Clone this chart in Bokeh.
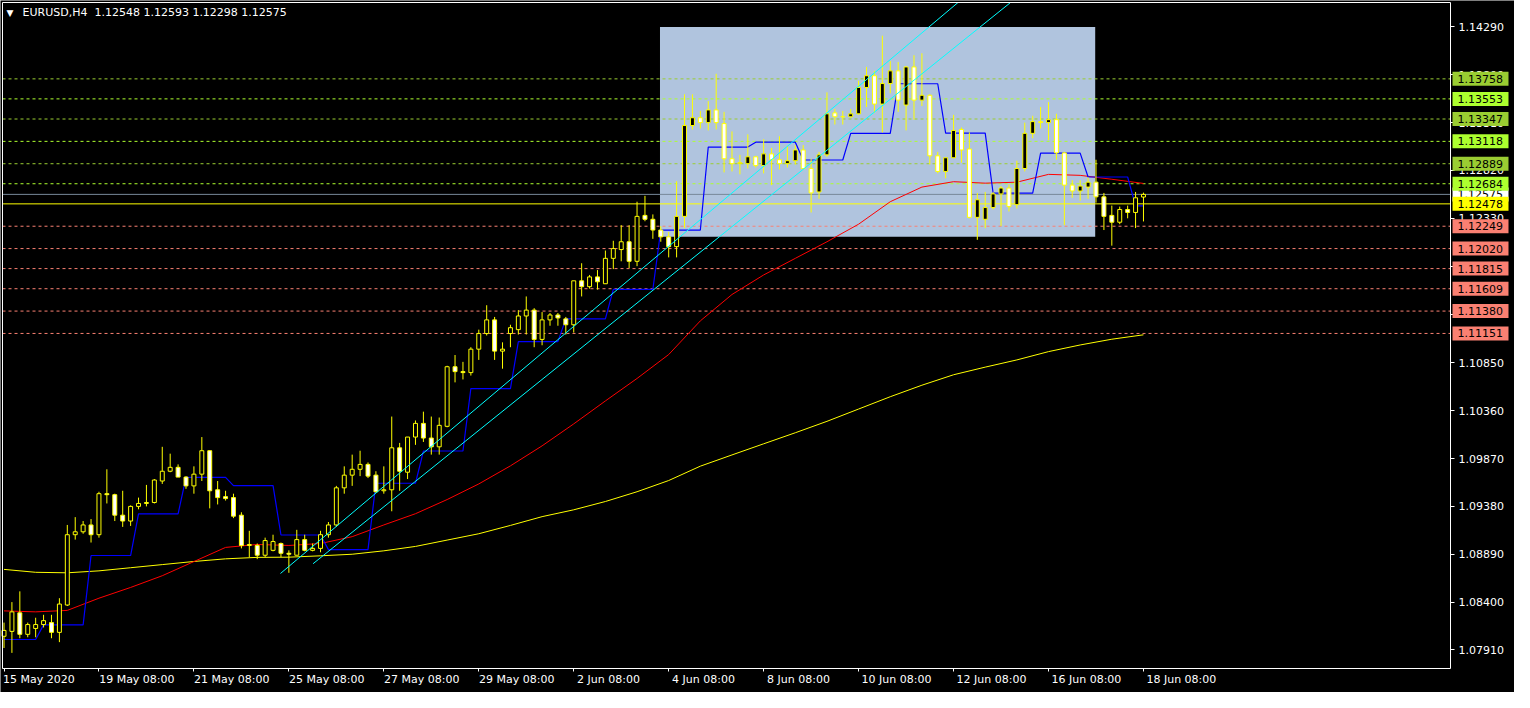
import numpy as np
from bokeh.plotting import figure
from bokeh.models import (Range1d, LinearAxis, FixedTicker, NumeralTickFormatter, Label)
from bokeh.core.properties import value
from bokeh.embed import file_html
from bokeh.resources import INLINE

# ---------------- data ----------------
symbol = "EURUSD,H4"

date_ticks = [0, 12, 24, 36, 48, 60, 72, 84, 96, 108, 120, 132, 144]
date_labels = ["15 May 2020", "19 May 08:00", "21 May 08:00", "25 May 08:00",
               "27 May 08:00", "29 May 08:00", "2 Jun 08:00", "4 Jun 08:00",
               "8 Jun 08:00", "10 Jun 08:00", "12 Jun 08:00", "16 Jun 08:00",
               "18 Jun 08:00"]

price_ticks = [1.0791, 1.0840, 1.0889, 1.0938, 1.0987, 1.1036, 1.1085,
               1.1135, 1.1184, 1.1233, 1.1282, 1.1331, 1.1380, 1.1429]

opens = [
    1.0805, 1.0810, 1.0829, 1.0807, 1.0813, 1.0817, 1.0819, 1.0809, 1.0837, 1.0909,
    1.0912, 1.0919, 1.0909, 1.0951, 1.0950, 1.0929, 1.0923, 1.0938, 1.0941, 1.0942,
    1.0964, 1.0974, 1.0978, 1.0968, 1.0959, 1.0971, 1.0995, 1.0955, 1.0948, 1.0947,
    1.0929, 1.0898, 1.0898, 1.0888, 1.0893, 1.0900, 1.0890, 1.0888, 1.0904, 1.0893,
    1.0895, 1.0909, 1.0919, 1.0957, 1.0970, 1.0976, 1.0981, 1.0970, 1.0954, 1.0955,
    1.0998, 1.0973, 1.1009, 1.1023, 1.1008, 1.0999, 1.1020, 1.1081, 1.1076, 1.1075,
    1.1099, 1.1115, 1.1129, 1.1097, 1.1115, 1.1119, 1.1133, 1.1139, 1.1109, 1.1129,
    1.1134, 1.1130, 1.1124, 1.1169, 1.1163, 1.1173, 1.1166, 1.1192, 1.1201, 1.1209,
    1.1189, 1.1236, 1.1232, 1.1221, 1.1214, 1.1204, 1.1235, 1.1328, 1.1336, 1.1331,
    1.1344, 1.1330, 1.1294, 1.1289, 1.1289, 1.1296, 1.1287, 1.1299, 1.1293, 1.1289,
    1.1292, 1.1303, 1.1284, 1.1260, 1.1298, 1.1341, 1.1337, 1.1337, 1.1340, 1.1367,
    1.1379, 1.1350, 1.1371, 1.1384, 1.1349, 1.1388, 1.1354, 1.1359, 1.1297, 1.1281,
    1.1295, 1.1324, 1.1304, 1.1234, 1.1232, 1.1244, 1.1258, 1.1264, 1.1247, 1.1284,
    1.1320, 1.1332, 1.1331, 1.1334, 1.1300, 1.1267, 1.1261, 1.1265, 1.1270, 1.1255,
    1.1236, 1.1229, 1.1242, 1.1239, 1.12548]

highs = [
    1.0819, 1.0840, 1.0851, 1.0819, 1.0824, 1.0827, 1.0827, 1.0844, 1.0919, 1.0927,
    1.0923, 1.0925, 1.0953, 1.0976, 1.0951, 1.0954, 1.0939, 1.0947, 1.0960, 1.0966,
    1.0999, 1.0992, 1.0981, 1.0969, 1.0979, 1.1009, 1.0995, 1.0964, 1.0954, 1.0951,
    1.0932, 1.0913, 1.0900, 1.0906, 1.0909, 1.0901, 1.0893, 1.0914, 1.0909, 1.0900,
    1.0913, 1.0922, 1.0959, 1.0979, 1.0991, 1.0995, 1.0983, 1.0974, 1.0979, 1.1030,
    1.1003, 1.1009, 1.1026, 1.1035, 1.1030, 1.1029, 1.1082, 1.1093, 1.1086, 1.1101,
    1.1119, 1.1144, 1.1132, 1.1106, 1.1124, 1.1139, 1.1153, 1.1141, 1.1137, 1.1136,
    1.1136, 1.1132, 1.1169, 1.1187, 1.1175, 1.1180, 1.1200, 1.1210, 1.1226, 1.1226,
    1.1250, 1.1256, 1.1237, 1.1225, 1.1219, 1.1271, 1.1360, 1.1360, 1.1343, 1.1353,
    1.1381, 1.1342, 1.1322, 1.1298, 1.1319, 1.1297, 1.1314, 1.1305, 1.1317, 1.1307,
    1.1308, 1.1308, 1.1294, 1.1301, 1.1362, 1.1345, 1.1343, 1.1345, 1.1374, 1.1388,
    1.1384, 1.1420, 1.1394, 1.1393, 1.1389, 1.1400, 1.1402, 1.1360, 1.1301, 1.1295,
    1.1339, 1.1326, 1.1321, 1.1259, 1.1260, 1.1260, 1.1266, 1.1268, 1.1292, 1.1331,
    1.1338, 1.1347, 1.1352, 1.1340, 1.1301, 1.1272, 1.1272, 1.1275, 1.1293, 1.1259,
    1.1246, 1.1245, 1.1246, 1.1260, 1.12593]

lows = [
    1.0793, 1.0788, 1.0803, 1.0804, 1.0804, 1.0814, 1.0803, 1.0799, 1.0836, 1.0904,
    1.0910, 1.0901, 1.0906, 1.0941, 1.0923, 1.0917, 1.0918, 1.0935, 1.0938, 1.0941,
    1.0961, 1.0973, 1.0968, 1.0956, 1.0951, 1.0964, 1.0936, 1.0940, 1.0944, 1.0926,
    1.0895, 1.0886, 1.0884, 1.0886, 1.0892, 1.0886, 1.0870, 1.0888, 1.0892, 1.0892,
    1.0891, 1.0906, 1.0917, 1.0951, 1.0959, 1.0969, 1.0967, 1.0952, 1.0951, 1.0933,
    1.0954, 1.0966, 1.1001, 1.1004, 1.0991, 1.0991, 1.1019, 1.1065, 1.1068, 1.1072,
    1.1088, 1.1113, 1.1088, 1.1079, 1.1101, 1.1114, 1.1114, 1.1101, 1.1103, 1.1123,
    1.1123, 1.1114, 1.1116, 1.1153, 1.1161, 1.1160, 1.1166, 1.1181, 1.1189, 1.1182,
    1.1184, 1.1230, 1.1212, 1.1209, 1.1193, 1.1193, 1.1223, 1.1324, 1.1325, 1.1323,
    1.1324, 1.1280, 1.1281, 1.1278, 1.1284, 1.1285, 1.1279, 1.1267, 1.1283, 1.1285,
    1.1288, 1.1283, 1.1239, 1.1253, 1.1296, 1.1329, 1.1329, 1.1336, 1.1339, 1.1347,
    1.1341, 1.1321, 1.1361, 1.1342, 1.1323, 1.1334, 1.1348, 1.1288, 1.1279, 1.1274,
    1.1295, 1.1290, 1.1233, 1.1211, 1.1223, 1.1242, 1.1225, 1.1240, 1.1243, 1.1281,
    1.1315, 1.1325, 1.1313, 1.1293, 1.1226, 1.1254, 1.1251, 1.1253, 1.1249, 1.1221,
    1.1205, 1.1227, 1.1233, 1.1223, 1.12298]

closes = [
    1.0811, 1.0830, 1.0807, 1.0817, 1.0817, 1.0821, 1.0809, 1.0838, 1.0909, 1.0912,
    1.0919, 1.0909, 1.0951, 1.0950, 1.0929, 1.0923, 1.0938, 1.0941, 1.0942, 1.0965,
    1.0974, 1.0978, 1.0968, 1.0959, 1.0971, 1.0995, 1.0954, 1.0947, 1.0946, 1.0928,
    1.0898, 1.0899, 1.0888, 1.0903, 1.0902, 1.0890, 1.0889, 1.0904, 1.0893, 1.0895,
    1.0909, 1.0919, 1.0957, 1.0970, 1.0976, 1.0981, 1.0969, 1.0953, 1.0955, 1.0998,
    1.0974, 1.1009, 1.1023, 1.1008, 1.0999, 1.1021, 1.1081, 1.1076, 1.1075, 1.1099,
    1.1115, 1.1129, 1.1097, 1.1099, 1.1121, 1.1133, 1.1139, 1.1109, 1.1129, 1.1134,
    1.1131, 1.1124, 1.1169, 1.1163, 1.1173, 1.1168, 1.1192, 1.1202, 1.1209, 1.1189,
    1.1235, 1.1232, 1.1221, 1.1214, 1.1204, 1.1235, 1.1328, 1.1336, 1.1331, 1.1344,
    1.1331, 1.1294, 1.1289, 1.1290, 1.1296, 1.1287, 1.1299, 1.1293, 1.1289, 1.1292,
    1.1303, 1.1284, 1.1259, 1.1298, 1.1340, 1.1337, 1.1337, 1.1340, 1.1367, 1.1379,
    1.1350, 1.1371, 1.1384, 1.1354, 1.1388, 1.1354, 1.1359, 1.1297, 1.1281, 1.1295,
    1.1323, 1.1303, 1.1234, 1.1252, 1.1244, 1.1258, 1.1264, 1.1245, 1.1284, 1.1320,
    1.1332, 1.1331, 1.1334, 1.1300, 1.1267, 1.1261, 1.1266, 1.1270, 1.1255, 1.1235,
    1.1229, 1.1242, 1.1239, 1.1254, 1.12575]

# moving averages read every 4 bars
ma_bars = list(range(0, 145, 4))
ma_red = [1.0831, 1.0830, 1.08315, 1.0844, 1.0855, 1.0867, 1.08815, 1.0896, 1.0899,
          1.0898, 1.0900, 1.0907, 1.0919, 1.09305, 1.0945, 1.0961, 1.09795, 1.1000,
          1.10225, 1.1046, 1.1069, 1.10935, 1.1128, 1.1155, 1.1175, 1.1192, 1.1209,
          1.1227, 1.1250, 1.1265, 1.12705, 1.1269, 1.1270, 1.1278, 1.1277, 1.1273,
          1.12687]
ma_yellow = [1.08735, 1.08705, 1.0870, 1.0872, 1.08752, 1.08784, 1.08816, 1.08843,
             1.08858, 1.0886, 1.08874, 1.0889, 1.08925, 1.0897, 1.09035, 1.0910,
             1.09185, 1.09275, 1.09345, 1.0943, 1.0953, 1.09645, 1.09792, 1.09907,
             1.10021, 1.10134, 1.10251, 1.10377, 1.10503, 1.10621, 1.10728, 1.10806,
             1.1088, 1.10965, 1.11033, 1.11092, 1.11137]

# stepped blue indicator: level and number of bars it holds
blue_levels = [1.08017, 1.08167, 1.08877, 1.09303, 1.09677, 1.09593, 1.09087, 1.08937,
               1.09617, 1.09947, 1.10587, 1.11067, 1.11300, 1.11603, 1.12210, 1.13060,
               1.13110, 1.12927, 1.13200, 1.13708, 1.13203, 1.12587, 1.12997, 1.12753,
               1.12457]
blue_counts = [5] + [6] * 23 + [2]

# trend lines (bar index, price) anchors
trend_bar0 = [34.94, 39.06]
trend_price0 = [1.08693, 1.08793]
trend_bar1 = [120.56, 127.2]
trend_price1 = [1.1454, 1.1454]

# rectangle object
rect_bar0, rect_bar1 = 82.9, 137.9
rect_top, rect_bottom = 1.1429, 1.1214

# horizontal levels
res_levels = [1.13758, 1.13553, 1.13347, 1.13118, 1.12889, 1.12684]
res_colors = ["#9ACD32", "#ADFF2F", "#9ACD32", "#ADFF2F", "#9ACD32", "#ADFF2F"]
sup_levels = [1.12249, 1.12020, 1.11815, 1.11609, 1.11380, 1.11151]
sup_color = "#FA8072"
yellow_level = 1.12478

# ---------------- geometry ----------------
W, H = 1514, 692
XMIN, XMAX = -0.19, 182.8       # chart box in bars
YMIN, YMAX = 1.0772, 1.1454     # chart box in price
CL, CR, CT, CB = 2, 1450, 2, 668   # chart box in canvas pixels (frame = whole canvas)
ppb = (CR - CL) / (XMAX - XMIN)
ppp = (CB - CT) / (YMAX - YMIN)
x_start, x_end = XMIN - CL / ppb, XMAX + (W - CR) / ppb
y_start, y_end = YMIN - (H - CB) / ppp, YMAX + CT / ppp
FONT = "DejaVu Sans"

p = figure(width=W, height=H, x_range=Range1d(x_start, x_end), y_range=Range1d(y_start, y_end),
           output_backend="svg", toolbar_location=None,
           x_axis_location=None, y_axis_location=None,
           background_fill_color="black", border_fill_color="black",
           min_border_left=0, min_border_top=0, min_border_right=0, min_border_bottom=0)
p.outline_line_color = None
p.grid.visible = False

# rectangle (background object)
p.quad(left=[rect_bar0], right=[rect_bar1], top=[rect_top], bottom=[rect_bottom],
       fill_color="#B0C4DE", line_color=None, level="underlay")

# horizontal dashed levels
lv_all = res_levels + sup_levels
col_all = res_colors + [sup_color] * len(sup_levels)
p.segment(x0=[XMIN] * len(lv_all), x1=[XMAX] * len(lv_all), y0=lv_all, y1=lv_all,
          line_color=col_all, line_width=1, line_dash="3 3", level="underlay")
bid = closes[-1]
p.segment(x0=[XMIN, XMIN], x1=[XMAX, XMAX], y0=[bid, yellow_level], y1=[bid, yellow_level],
          line_color=["#778899", "#FFFF00"], line_width=1, level="underlay")

# moving averages
p.line(ma_bars, ma_yellow, line_color="#FFFF00", line_width=1)
p.line(ma_bars, ma_red, line_color="#FF0000", line_width=1)

# blue stepped indicator
idx = np.arange(len(opens))
blue_y = np.repeat(blue_levels, blue_counts)
p.line(idx, blue_y, line_color="#0000FF", line_width=1.2)

# candles
o = np.array(opens); c = np.array(closes)
body_top = np.maximum(o, c)
body_bot = np.minimum(o, c)
fills = ["#000000" if cc >= oo else "#FFFFFF" for oo, cc in zip(opens, closes)]
p.segment(x0=idx, y0=lows, x1=idx, y1=highs, line_color="#FFFF00", line_width=1)
p.vbar(x=idx, top=body_top, bottom=body_bot, width=0.5, fill_color=fills,
       line_color="#FFFF00", line_width=1)

# trend lines
p.segment(x0=trend_bar0, y0=trend_price0, x1=trend_bar1, y1=trend_price1,
          line_color="#00FFFF", line_width=1)

# chart border
p.quad(left=[XMIN], right=[XMAX], top=[YMAX], bottom=[YMIN], fill_color=None,
       line_color="white", line_width=1, level="overlay")

# ---------------- axes (fixed at the chart box edges) ----------------
yaxis = LinearAxis(ticker=FixedTicker(ticks=price_ticks, minor_ticks=[]),
                   formatter=NumeralTickFormatter(format="0.00000"),
                   fixed_location=XMAX)
yaxis.axis_line_color = None
yaxis.major_tick_line_color = "white"
yaxis.major_tick_out = 4
yaxis.major_tick_in = 0
yaxis.minor_tick_line_color = None
yaxis.major_label_text_color = "white"
yaxis.major_label_text_font = FONT
yaxis.major_label_text_font_size = "11px"
yaxis.major_label_standoff = 4
p.add_layout(yaxis, "right")

xa = LinearAxis(ticker=FixedTicker(ticks=date_ticks, minor_ticks=[]), fixed_location=YMIN)
xa.axis_line_color = None
xa.major_tick_line_color = "white"
xa.major_tick_out = 3
xa.major_tick_in = 0
xa.minor_tick_line_color = None
xa.major_label_text_font_size = "0px"
xa.major_label_text_alpha = 0
xa.major_label_standoff = 0
p.add_layout(xa, "below")

shifted = [t + (len(s) * 6.15 / 2 + 1) / ppb for t, s in zip(date_ticks, date_labels)]
xb = LinearAxis(ticker=FixedTicker(ticks=shifted, minor_ticks=[]), fixed_location=YMIN,
                major_label_overrides={t: s for t, s in zip(shifted, date_labels)})
xb.axis_line_color = None
xb.major_tick_line_color = None
xb.major_tick_out = 0
xb.major_tick_in = 0
xb.minor_tick_line_color = None
xb.major_label_text_color = "white"
xb.major_label_text_font = FONT
xb.major_label_text_font_size = "11px"
xb.major_label_standoff = 4
p.add_layout(xb, "below")

# ---------------- price tags on the right ----------------
def tag(level, bg, fg="black"):
    p.quad(left=[XMAX + 2 / ppb], right=[XMAX + 58 / ppb],
           top=[level + 7 / ppp], bottom=[level - 7 / ppp],
           fill_color=bg, line_color=None, level="overlay")
    p.text(x=[XMAX + 7 / ppb], y=[level], text=[f"{level:.5f}"],
           text_font=value(FONT), text_font_size=value("11px"), text_color=fg,
           text_baseline="middle", text_align="left", level="overlay")

tag(bid, "#FFFFFF")
for lv, col in zip(res_levels, res_colors):
    tag(lv, col)
tag(yellow_level, "#FFFF00")
for lv in sup_levels:
    tag(lv, sup_color)

# ---------------- header ----------------
p.add_layout(Label(x=XMIN, y=YMAX, x_offset=4, y_offset=-10, text="\u25BC",
                   text_font=FONT, text_font_size="9px", text_color="white",
                   text_baseline="middle"))
header = (f"{symbol}\u00a0\u00a0{opens[-1]:.5f} {highs[-1]:.5f} "
          f"{lows[-1]:.5f} {closes[-1]:.5f}")
p.add_layout(Label(x=XMIN, y=YMAX, x_offset=20, y_offset=-10, text=header,
                   text_font=FONT, text_font_size="11px", text_color="white",
                   text_baseline="middle"))

open("out.html", "w").write(file_html(p, INLINE))
